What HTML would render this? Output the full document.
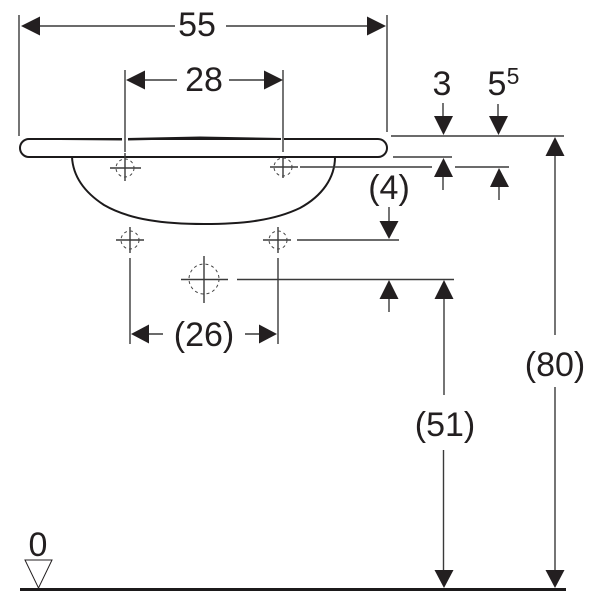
<!DOCTYPE html>
<html><head><meta charset="utf-8"><style>
html,body{margin:0;padding:0;background:#fff}
svg{display:block}
text{font-family:"Liberation Sans",sans-serif;font-size:34px;fill:#231f20;text-anchor:middle}
.d{stroke:#3a3a3a;stroke-width:1.4;fill:none}
.k{stroke:#1c1a1b;stroke-width:2;fill:none}
.t{stroke:#444;stroke-width:1;fill:none;stroke-dasharray:3 3}
polygon{fill:#231f20}
</style></head><body>
<svg width="600" height="600" viewBox="0 0 600 600" xmlns="http://www.w3.org/2000/svg">
<!-- basin -->
<path class="k" d="M29 157H378A9 9 0 0 0 378 139H29A9 9 0 0 0 29 157Z"/>
<path d="M60 139 L124 138 L200 136.500 L283 138 L300 139 L300 140 L200 139 L124 140.500 L60 140Z" fill="#1c1a1b"/>
<path class="k" d="M72 157C73 176 84 192 104 205C130 220 165 224 204 224C245 224 275 220 300 208C322 196 335 178 335 157"/>
<rect x="122" y="134" width="6" height="8" fill="#fff"/><rect x="281" y="134" width="3" height="8" fill="#fff"/>
<!-- extension lines -->
<path class="d" d="M19 15V136M387 15V132M125 70V152M283 70V152M125 153V181M110 168H141M283 158V178M270 167H298M300 167H432M455 167H509M391 136H564M393 157H452M130 227V253M116 240H144M130 258V344M278 227V253M263 240H291M297 240H399M278 258V344M204 256V303M181 279.500H228M237 279.500H454"/>
<!-- dashed circles -->
<circle class="t" cx="125" cy="168" r="9"/><circle class="t" cx="283" cy="167" r="9"/>
<circle class="t" cx="130" cy="240" r="9"/><circle class="t" cx="278" cy="240" r="9"/>
<circle class="t" cx="204" cy="279" r="15" stroke-dasharray="5 4"/>
<!-- dim lines -->
<path class="d" d="M40 26H175M226 26H368M145 80H177M229 80H264M149 334H163M245 334H259M443 103V116M498 104V117M443 177V190M499 187V200M389 207V221M555 156V335M555 387V570M444 299V395M443.500 450V570M389 299V312"/>
<!-- arrows -->
<polygon points="21,26 40,16.500 40,35.500"/><polygon points="386,26 367,16.500 367,35.500"/>
<polygon points="126,80 145,70.500 145,89.500"/><polygon points="283,80 264,70.500 264,89.500"/>
<polygon points="131,334 149,324.500 149,343.500"/><polygon points="277,334 259,324.500 259,343.500"/>
<polygon points="443.500,135 434,116 453,116"/><polygon points="498.500,135 489,116 508,116"/>
<polygon points="443.500,158 434,177 453,177"/><polygon points="499,168 490,187 509,187"/>
<polygon points="389,239 379.500,221 398.500,221"/>
<polygon points="555,137 545.500,156 564.500,156"/><polygon points="555,588 545.500,570 564.500,570"/>
<polygon points="444,280 434.500,299 453.500,299"/><polygon points="444,588 434.500,570 453.500,570"/>
<polygon points="389,280 379.500,299 398.500,299"/>
<!-- ground -->
<path d="M20 589.500H566" stroke="#1c1a1b" stroke-width="3"/>
<path d="M25 560H52L38.500 588Z" fill="none" stroke="#231f20" stroke-width="1"/>
<!-- labels -->
<text x="197" y="36">55</text>
<text x="204" y="91">28</text>
<text x="442" y="95">3</text>
<text x="497" y="95">5</text>
<text x="513" y="84" style="font-size:23px">5</text>
<text x="389" y="199">(4)</text>
<text x="204" y="346">(26)</text>
<text x="555" y="376">(80)</text>
<text x="445" y="436">(51)</text>
<text x="38" y="556">0</text>
</svg>
</body></html>
